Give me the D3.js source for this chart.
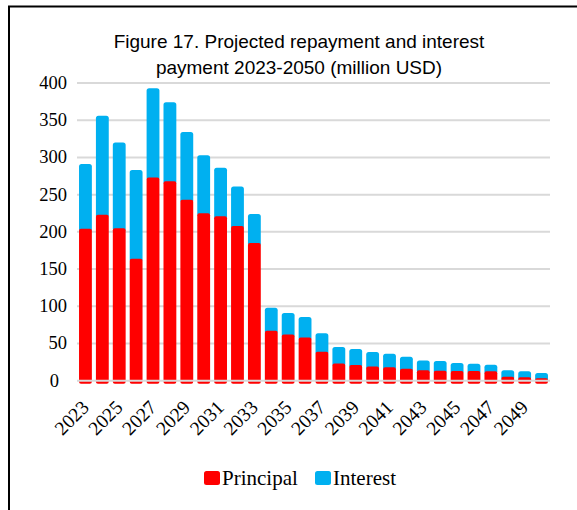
<!DOCTYPE html>
<html><head><meta charset="utf-8">
<script src="https://cdn.jsdelivr.net/npm/d3@7"></script>
<style>body{margin:0;background:#fff}svg{display:block}</style>
</head><body><svg id="c" width="577" height="510"></svg>
<script>
const years = d3.range(2023, 2051).map(String);
const principal = [204,223,205,164,273,268,243,225,221,208,185,67,62,58,39,23,21,19,18,16,14,13.5,13,13,12.6,5.4,4.5,3.2];
const interest  = [87,133,115,119,120,106,91,78,65,53,39,31,29,27.5,24.6,22.4,21.6,19.7,18.3,16.3,13.3,12.9,10.8,9.9,8.9,8.6,8.1,7.1];
const yTicks = [0,50,100,150,200,250,300,350,400];
const seriesNames = ["Principal","Interest"];
const colors = ["#ff0000","#00b0f0"];
const titleLines = ["Figure 17. Projected repayment and interest","payment 2023-2050 (million USD)"];

const svg = d3.select("#c");
// frame
svg.append("path").attr("d","M9,510 V6.5 H577").attr("fill","none").attr("stroke","#000").attr("stroke-width",2);

const x = d3.scaleBand().domain(years).range([77,550]).paddingInner(0.24).paddingOuter(0.12);
const y = d3.scaleLinear().domain([0,400]).range([380.7,83]);

// gridlines
const grid = svg.append("g");
grid.selectAll("line").data(yTicks.filter(d=>d>0)).join("line")
  .attr("x1",77).attr("x2",550).attr("y1",d=>y(d)).attr("y2",d=>y(d))
  .attr("stroke","#d9d9d9").attr("stroke-width",2);

// y labels
svg.append("g").selectAll("text").data(yTicks).join("text")
  .attr("x", d=> d===0 ? 59 : 67).attr("y", d=>y(d)+6)
  .attr("text-anchor","end").attr("font-family","Liberation Serif, Times New Roman, serif")
  .attr("font-size",18.5).attr("fill","#000").text(d=>d);

// bars
const bw = x.bandwidth();
const bars = svg.append("g");
years.forEach((yr,i)=>{
  const tot = principal[i]+interest[i];
  bars.append("rect").attr("x",x(yr)).attr("width",bw)
    .attr("y",y(tot)).attr("height",y(principal[i])-y(tot)+3)
    .attr("rx",2.5).attr("fill",colors[1]);
  bars.append("rect").attr("x",x(yr)).attr("width",bw)
    .attr("y",y(principal[i])).attr("height",y(0)-y(principal[i])+3)
    .attr("rx",2).attr("fill",colors[0]);
});
// zero line on top
svg.append("line").attr("x1",77).attr("x2",550).attr("y1",y(0)).attr("y2",y(0))
  .attr("stroke","#d9d9d9").attr("stroke-width",2);

// x labels
svg.append("g").selectAll("text").data(years.filter((d,i)=>i%2===0)).join("text")
  .attr("transform",d=>`translate(${x(d)+bw/2-5},${399}) rotate(-45)`)
  .attr("text-anchor","end").attr("dy","0.7em")
  .attr("font-family","Liberation Serif, Times New Roman, serif")
  .attr("font-size",19.5).attr("fill","#000").text(d=>d);

// title
const t = svg.append("g");
titleLines.forEach((s,i)=>{
  t.append("text").attr("x",299).attr("y",48+i*26).attr("text-anchor","middle")
   .attr("font-family","Liberation Sans, Arial, sans-serif").attr("font-size",18)
   .attr("fill","#000").text(s);
});
const n1 = t.select("text").node();
const w = n1.getComputedTextLength();
const fs = Math.min(19, 18*408/w);
t.selectAll("text").attr("font-size",fs);

// legend
const leg = svg.append("g");
const legX = [204,315];
seriesNames.forEach((s,i)=>{
  leg.append("rect").attr("x",legX[i]).attr("y",471).attr("width",16).attr("height",14)
    .attr("rx",2.5).attr("fill",colors[i]);
  leg.append("text").attr("x",legX[i]+18).attr("y",485)
    .attr("font-family","Liberation Serif, Times New Roman, serif").attr("font-size",21)
    .attr("fill","#000").text(s);
});
</script></body></html>
